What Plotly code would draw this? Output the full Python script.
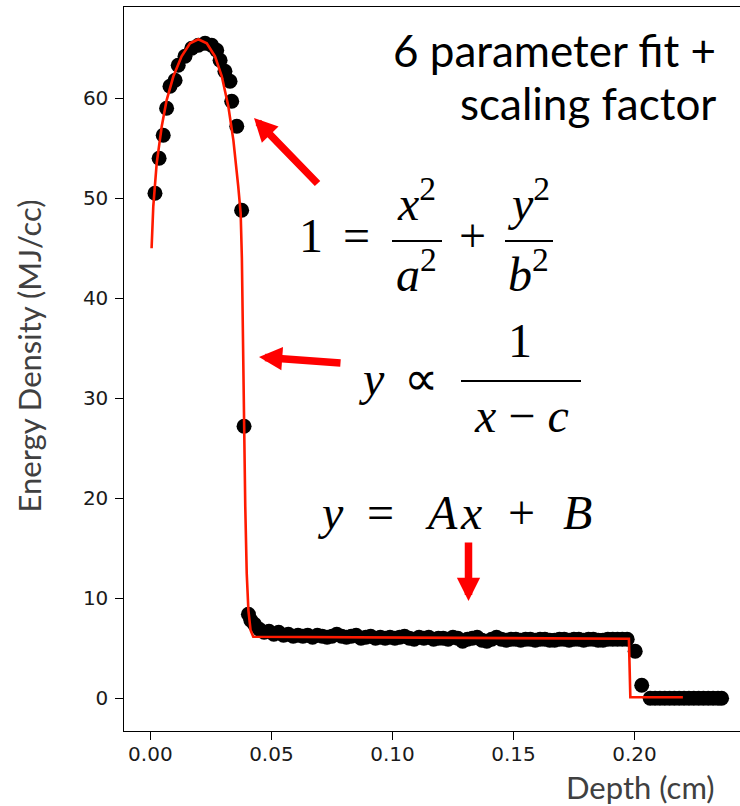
import plotly.graph_objects as go

# ---------------- data ----------------
peak_depth = [0.0019, 0.0036, 0.0053, 0.0067, 0.0081, 0.0102, 0.0115, 0.0143, 0.0171,
              0.0198, 0.0226, 0.0253, 0.0274, 0.0288, 0.0308, 0.0329, 0.0336, 0.0357,
              0.0377, 0.0387, 0.0405, 0.0415]
peak_energy = [50.5, 54.0, 56.3, 59.0, 61.2, 61.8, 63.3, 64.2, 65.0,
               65.3, 65.5, 65.3, 64.8, 63.8, 62.7, 61.7, 59.7, 57.2,
               48.8, 27.2, 8.4, 7.8]

plateau_depth = [0.043, 0.045, 0.047, 0.049, 0.051, 0.053, 0.055, 0.057, 0.059, 0.061,
                 0.063, 0.065, 0.067, 0.069, 0.071, 0.073, 0.075, 0.077, 0.079, 0.081,
                 0.083, 0.085, 0.087, 0.089, 0.091, 0.093, 0.095, 0.097, 0.099, 0.101,
                 0.103, 0.105, 0.107, 0.109, 0.111, 0.113, 0.115, 0.117, 0.119, 0.121,
                 0.123, 0.125, 0.127, 0.129, 0.131, 0.133, 0.135, 0.137, 0.139, 0.141,
                 0.143, 0.145, 0.147, 0.149, 0.151, 0.153, 0.155, 0.157, 0.159, 0.161,
                 0.163, 0.165, 0.167, 0.169, 0.171, 0.173, 0.175, 0.177, 0.179, 0.181,
                 0.183, 0.185, 0.187, 0.189, 0.191, 0.193, 0.195, 0.197]
plateau_energy = [7.4, 6.9, 6.6, 6.7, 6.4, 6.6, 6.3, 6.4, 6.2, 6.3,
                  6.2, 6.3, 6.1, 6.3, 6.2, 6.1, 6.2, 6.4, 6.2, 6.1,
                  6.2, 6.3, 6.0, 6.1, 6.2, 6.0, 6.1, 6.0, 6.1, 6.0,
                  6.1, 6.2, 6.0, 5.9, 6.1, 6.0, 6.1, 5.9, 6.0, 6.0,
                  5.9, 6.1, 6.0, 5.7, 5.9, 6.0, 6.1, 5.8, 5.7, 5.9,
                  6.1, 5.9, 5.8, 5.9, 5.9, 5.8, 5.9, 5.9, 5.8, 5.9,
                  5.9, 5.8, 5.8, 5.9, 5.9, 5.8, 5.9, 5.9, 5.8, 5.9,
                  5.9, 5.8, 5.8, 5.9, 5.9, 5.9, 5.9, 5.9]

tail_depth = [0.2003, 0.2030, 0.2065, 0.2085, 0.2105, 0.2125, 0.2145, 0.2165, 0.2185,
              0.2205, 0.2225, 0.2245, 0.2265, 0.2285, 0.2305, 0.2325, 0.2345, 0.2360]
tail_energy = [4.7, 1.3, 0.0, 0.0, 0.0, 0.0, 0.0, 0.0, 0.0,
               0.0, 0.0, 0.0, 0.0, 0.0, 0.0, 0.0, 0.0, 0.0]

fit_depth = [0.0005, 0.0012, 0.0026, 0.0047, 0.0067, 0.0095, 0.0129, 0.0164, 0.0198,
             0.0233, 0.0267, 0.0295, 0.0322, 0.0343, 0.0363, 0.0373, 0.0378, 0.0381,
             0.0387, 0.0392, 0.0398, 0.0405, 0.0414, 0.0425, 0.1977, 0.1983, 0.2200]
fit_energy = [45.0, 49.2, 53.5, 57.2, 59.8, 62.2, 64.2, 65.5, 65.9,
              65.5, 64.2, 62.2, 59.2, 55.8, 51.2, 48.5, 44.0, 37.5,
              27.2, 19.2, 12.5, 8.8, 6.8, 6.15, 5.95, 0.1, 0.1]

x_ticks = [0.00, 0.05, 0.10, 0.15, 0.20]
x_tick_labels = ["0.00", "0.05", "0.10", "0.15", "0.20"]
y_ticks = [0, 10, 20, 30, 40, 50, 60]
y_tick_labels = ["0", "10", "20", "30", "40", "50", "60"]

# ---------------- layout geometry ----------------
W, H = 740, 806
ML, MR, MT, MB = 124, 0, 7, 75
PW, PH = W - ML - MR, H - MT - MB


def pp(px, py):
    return (px - ML) / PW, (H - MB - py) / PH


fig = go.Figure()
fig.add_trace(go.Scatter(
    x=peak_depth + plateau_depth + tail_depth,
    y=peak_energy + plateau_energy + tail_energy,
    mode="markers", marker=dict(color="black", size=15, line=dict(width=0)),
    showlegend=False, hoverinfo="skip"))
fig.add_trace(go.Scatter(
    x=fit_depth, y=fit_energy, mode="lines",
    line=dict(color="#ff1a00", width=2.6), showlegend=False, hoverinfo="skip"))

TICKFONT = dict(family="DejaVu Sans", size=20, color="#1a1a1a")
fig.update_xaxes(range=[-0.0109, 0.2436], tickvals=x_ticks, ticktext=x_tick_labels,
                 showline=True, linecolor="black", linewidth=1.3, mirror=True,
                 ticks="outside", ticklen=7.5, tickwidth=1.3, tickcolor="black",
                 tickfont=TICKFONT, showgrid=False, zeroline=False, ticklabelstandoff=-3,
                 automargin=False)
fig.update_yaxes(range=[-3.27, 69.13], tickvals=y_ticks, ticktext=y_tick_labels,
                 showline=True, linecolor="black", linewidth=1.3, mirror=False,
                 ticks="outside", ticklen=7.5, tickwidth=1.3, tickcolor="black",
                 tickfont=TICKFONT, showgrid=False, zeroline=False, ticklabelstandoff=3,
                 automargin=False)

fig.update_layout(width=W, height=H, margin=dict(l=ML, r=MR, t=MT, b=MB, autoexpand=False),
                  paper_bgcolor="white", plot_bgcolor="white")

SERIF = "Liberation Serif"
SANS = "Lato"


def txt(s, cx, base, size, family=SERIF, anchor="center", color="black", descent=0.216):
    x, y = pp(cx, base + descent * size)
    fig.add_annotation(text=s, x=x, y=y, xref="paper", yref="paper",
                       xanchor=anchor, yanchor="bottom", showarrow=False,
                       borderpad=0, font=dict(family=family, size=size, color=color))


def bar(x0, x1, y):
    a = pp(x0, y)
    b = pp(x1, y)
    fig.add_shape(type="line", xref="paper", yref="paper", x0=a[0], y0=a[1], x1=b[0], y1=b[1],
                  line=dict(color="black", width=2))


def arrow(tipx, tipy, tailx, taily):
    x, y = pp(tipx, tipy)
    fig.add_annotation(text="", x=x, y=y, xref="paper", yref="paper",
                       ax=tailx - tipx, ay=taily - tipy, showarrow=True,
                       arrowhead=2, arrowsize=0.62, arrowwidth=7.5, arrowcolor="#ff0000",
                       standoff=0)


# top-right caption
txt("6 parameter fit +", 717, 68, 44, SANS, anchor="right", descent=0.213)
txt("scaling factor", 717, 121, 44, SANS, anchor="right", descent=0.213)

# equation 1
FS = 48
txt("1", 311, 253, FS)
txt("=", 356, 253, FS)
txt("<i>x</i><sup>2</sup>", 416, 221, FS)
bar(392, 442, 241)
txt("<i>a</i><sup>2</sup>", 416, 292, FS)
txt("+", 472, 253, FS)
txt("<i>y</i><sup>2</sup>", 528, 221, FS)
bar(505, 553, 241)
txt("<i>b</i><sup>2</sup>", 528, 292, FS)

# equation 2
txt("<i>y</i>", 371, 396, FS)
txt("∝", 421, 396, FS)
txt("1", 520, 358, FS)
bar(461, 581, 381)
txt("<i>x</i> − <i>c</i>", 521, 433, FS)

# equation 3
txt("<i>y</i>", 330, 530, FS)
txt("=", 380, 530, FS)
txt("<i>A</i>", 441, 530, FS)
txt("<i>x</i>", 471, 530, FS)
txt("+", 521, 530, FS)
txt("<i>B</i>", 577, 530, FS)

# arrows
arrow(254, 118, 319, 185)
arrow(259, 357, 342, 363)
arrow(468.5, 601, 468.5, 541)

# axis titles
xt, yt = pp(28.5, 356)
fig.add_annotation(text="Energy Density (MJ/cc)", x=xt, y=yt, xref="paper", yref="paper",
                   xanchor="center", yanchor="middle", textangle=-90, showarrow=False,
                   font=dict(family=SANS, size=31, color="#404040"))
xd, yd = pp(717, 787)
fig.add_annotation(text="Depth (cm)", x=xd, y=yd, xref="paper", yref="paper",
                   xanchor="right", yanchor="middle", showarrow=False,
                   font=dict(family=SANS, size=31, color="#404040"))

fig.write_html("out.html", config={"displayModeBar": False},
               post_script="document.body.style.margin='0px';")
